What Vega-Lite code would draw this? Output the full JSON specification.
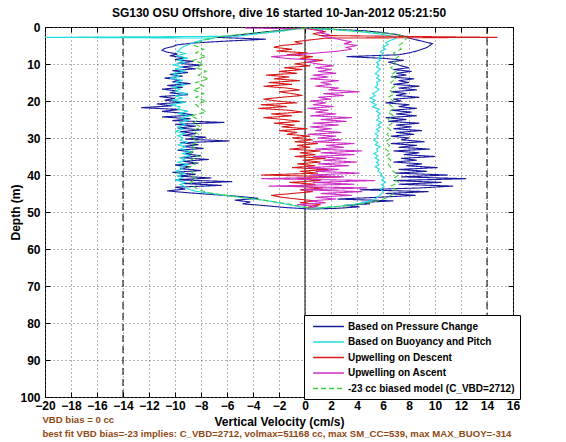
{
  "$schema": "https://vega.github.io/schema/vega-lite/v6.json",
  "width": 468,
  "height": 370,
  "autosize": "none",
  "padding": {"left": 45, "top": 27, "right": 53, "bottom": 45},
  "background": "white",
  "title": {"text": "SG130 OSU Offshore, dive 16 started 10-Jan-2012 05:21:50", "fontSize": 12, "fontWeight": "bold", "font": "Liberation Sans", "color": "black", "offset": 1},
  "config": {
    "font": "Liberation Sans",
    "view": {"stroke": "black", "strokeWidth": 1},
    "axis": {
      "labelFont": "Liberation Sans", "labelFontSize": 12, "labelFontWeight": "bold", "labelColor": "black",
      "titleFont": "Liberation Sans", "titleFontSize": 12, "titleFontWeight": "bold", "titleColor": "black",
      "domain": false, "tickColor": "black", "tickSize": -5, "tickWidth": 1,
      "gridColor": "#666", "gridDash": [1, 3], "gridOpacity": 1, "gridWidth": 1,
      "labelOverlap": false
    }
  },
  "data": {"values": [
    {"s":"P","d":0.3,"v":-0.5},{"s":"P","d":0.8,"v":-1.5},{"s":"P","d":1.3,"v":-3},{"s":"P","d":1.8,"v":-4.2},{"s":"P","d":2.3,"v":-5.5},{"s":"P","d":2.8,"v":-6.8},{"s":"P","d":3.3,"v":-3},{"s":"P","d":3.8,"v":-6},{"s":"P","d":4.3,"v":-8.5},{"s":"P","d":4.8,"v":-9.8},{"s":"P","d":5.3,"v":-10.2},{"s":"P","d":5.8,"v":-10.8},{"s":"P","d":6.3,"v":-11},{"s":"P","d":6.8,"v":-10.6},{"s":"P","d":7.3,"v":-9.8},{"s":"P","d":7.8,"v":-10.4},{"s":"P","d":8.3,"v":-9.2},{"s":"P","d":8.8,"v":-10},{"s":"P","d":9.3,"v":-8.6},{"s":"P","d":9.8,"v":-9.8},{"s":"P","d":10.3,"v":-8},{"s":"P","d":10.8,"v":-9.6},{"s":"P","d":11.3,"v":-8.4},{"s":"P","d":11.8,"v":-10.2},{"s":"P","d":12.3,"v":-9},{"s":"P","d":12.8,"v":-10.4},{"s":"P","d":13.3,"v":-9.4},{"s":"P","d":13.8,"v":-10.8},{"s":"P","d":14.3,"v":-9.6},{"s":"P","d":14.8,"v":-10.2},{"s":"P","d":15.3,"v":-8.8},{"s":"P","d":15.8,"v":-10.6},{"s":"P","d":16.3,"v":-9.4},{"s":"P","d":16.8,"v":-11},{"s":"P","d":17.3,"v":-9.8},{"s":"P","d":17.8,"v":-10.4},{"s":"P","d":18.3,"v":-9},{"s":"P","d":18.8,"v":-11.2},{"s":"P","d":19.3,"v":-10},{"s":"P","d":19.8,"v":-10.8},{"s":"P","d":20.3,"v":-9.2},{"s":"P","d":20.8,"v":-11.4},{"s":"P","d":21.3,"v":-10.2},{"s":"P","d":21.8,"v":-12.6},{"s":"P","d":22.3,"v":-9.6},{"s":"P","d":22.8,"v":-11},{"s":"P","d":23.3,"v":-9.4},{"s":"P","d":23.8,"v":-8.6},{"s":"P","d":24.3,"v":-11},{"s":"P","d":24.8,"v":-8.8},{"s":"P","d":25.3,"v":-10.2},{"s":"P","d":25.8,"v":-6.2},{"s":"P","d":26.3,"v":-10},{"s":"P","d":26.8,"v":-8.4},{"s":"P","d":27.3,"v":-9.8},{"s":"P","d":27.8,"v":-8},{"s":"P","d":28.3,"v":-9.6},{"s":"P","d":28.8,"v":-8.4},{"s":"P","d":29.3,"v":-9.4},{"s":"P","d":29.8,"v":-7.6},{"s":"P","d":30.3,"v":-9.2},{"s":"P","d":30.8,"v":-5.8},{"s":"P","d":31.3,"v":-9.6},{"s":"P","d":31.8,"v":-8.2},{"s":"P","d":32.3,"v":-9.4},{"s":"P","d":32.8,"v":-7.8},{"s":"P","d":33.3,"v":-9.8},{"s":"P","d":33.8,"v":-8.6},{"s":"P","d":34.3,"v":-9.2},{"s":"P","d":34.8,"v":-8},{"s":"P","d":35.3,"v":-9.6},{"s":"P","d":35.8,"v":-7.4},{"s":"P","d":36.3,"v":-9.4},{"s":"P","d":36.8,"v":-8.2},{"s":"P","d":37.3,"v":-10},{"s":"P","d":37.8,"v":-8.8},{"s":"P","d":38.3,"v":-9.6},{"s":"P","d":38.8,"v":-8},{"s":"P","d":39.3,"v":-10.2},{"s":"P","d":39.8,"v":-8.4},{"s":"P","d":40.3,"v":-9.8},{"s":"P","d":40.8,"v":-7.2},{"s":"P","d":41.3,"v":-10},{"s":"P","d":41.8,"v":-5.6},{"s":"P","d":42.3,"v":-9.4},{"s":"P","d":42.8,"v":-6.4},{"s":"P","d":43.3,"v":-10},{"s":"P","d":43.8,"v":-9.2},{"s":"P","d":44.3,"v":-10.6},{"s":"P","d":44.8,"v":-9},{"s":"P","d":45.3,"v":-7},{"s":"P","d":45.8,"v":-5},{"s":"P","d":46.3,"v":-3.6},{"s":"P","d":46.8,"v":-5.4},{"s":"P","d":47.3,"v":-4.2},{"s":"P","d":47.8,"v":-4.8},{"s":"P","d":48.3,"v":-3},{"s":"P","d":48.8,"v":-1.5},{"s":"P","d":49.2,"v":0.5},
    {"s":"P","d":49,"v":2.5},{"s":"P","d":48.6,"v":4.2},{"s":"P","d":48.2,"v":3},{"s":"P","d":47.8,"v":5},{"s":"P","d":47.4,"v":4.4},{"s":"P","d":47,"v":6.8},{"s":"P","d":46.5,"v":2.5},{"s":"P","d":46,"v":5.8},{"s":"P","d":45.5,"v":8.5},{"s":"P","d":45,"v":6.2},{"s":"P","d":44.5,"v":9.5},{"s":"P","d":44,"v":4.2},{"s":"P","d":43.5,"v":8.8},{"s":"P","d":43,"v":11.4},{"s":"P","d":42.5,"v":7.2},{"s":"P","d":42,"v":10.5},{"s":"P","d":41.5,"v":6.8},{"s":"P","d":41,"v":12.4},{"s":"P","d":40.5,"v":7.4},{"s":"P","d":40,"v":11},{"s":"P","d":39.5,"v":7},{"s":"P","d":39,"v":9.4},{"s":"P","d":38.5,"v":7.2},{"s":"P","d":38,"v":10.2},{"s":"P","d":37.5,"v":7.8},{"s":"P","d":37,"v":9},{"s":"P","d":36.5,"v":6.8},{"s":"P","d":36,"v":8.6},{"s":"P","d":35.5,"v":7.4},{"s":"P","d":35,"v":10},{"s":"P","d":34.5,"v":7.6},{"s":"P","d":34,"v":8.8},{"s":"P","d":33.5,"v":6.8},{"s":"P","d":33,"v":9.6},{"s":"P","d":32.5,"v":7.2},{"s":"P","d":32,"v":8.6},{"s":"P","d":31.5,"v":6.6},{"s":"P","d":31,"v":9.2},{"s":"P","d":30.5,"v":7.4},{"s":"P","d":30,"v":8},{"s":"P","d":29.5,"v":6.6},{"s":"P","d":29,"v":8.4},{"s":"P","d":28.5,"v":7},{"s":"P","d":28,"v":9},{"s":"P","d":27.5,"v":6.8},{"s":"P","d":27,"v":8.2},{"s":"P","d":26.5,"v":7},{"s":"P","d":26,"v":8.8},{"s":"P","d":25.5,"v":6.4},{"s":"P","d":25,"v":7.8},{"s":"P","d":24.5,"v":6.2},{"s":"P","d":24,"v":8.6},{"s":"P","d":23.5,"v":7},{"s":"P","d":23,"v":8.2},{"s":"P","d":22.5,"v":6.6},{"s":"P","d":22,"v":8.6},{"s":"P","d":21.5,"v":7.2},{"s":"P","d":21,"v":8},{"s":"P","d":20.5,"v":6.2},{"s":"P","d":20,"v":7.4},{"s":"P","d":19.5,"v":6.8},{"s":"P","d":19,"v":8.8},{"s":"P","d":18.5,"v":7},{"s":"P","d":18,"v":7.8},{"s":"P","d":17.5,"v":6.6},{"s":"P","d":17,"v":8.6},{"s":"P","d":16.5,"v":7.2},{"s":"P","d":16,"v":8.8},{"s":"P","d":15.5,"v":6.8},{"s":"P","d":15,"v":8},{"s":"P","d":14.5,"v":7.2},{"s":"P","d":14,"v":8.4},{"s":"P","d":13.5,"v":6.6},{"s":"P","d":13,"v":7.8},{"s":"P","d":12.5,"v":7},{"s":"P","d":12,"v":8.2},{"s":"P","d":11.5,"v":6.8},{"s":"P","d":11,"v":8},{"s":"P","d":10.5,"v":7.4},{"s":"P","d":10,"v":7},{"s":"P","d":9.5,"v":6.4},{"s":"P","d":9,"v":7.6},{"s":"P","d":8.5,"v":6.2},{"s":"P","d":8,"v":3.2},{"s":"P","d":7.5,"v":7.2},{"s":"P","d":7,"v":8},{"s":"P","d":6.5,"v":8.6},{"s":"P","d":6,"v":9},{"s":"P","d":5.5,"v":9.4},{"s":"P","d":5,"v":9.6},{"s":"P","d":4.5,"v":9.8},{"s":"P","d":4,"v":9.2},{"s":"P","d":3.5,"v":8.6},{"s":"P","d":3,"v":8},{"s":"P","d":2.5,"v":7.6},{"s":"P","d":2,"v":7},{"s":"P","d":1.5,"v":6},{"s":"P","d":1,"v":4.5},{"s":"P","d":0.6,"v":2},{"s":"P","d":0.3,"v":0},

    {"s":"B","d":0.3,"v":-0.3},{"s":"B","d":1,"v":-1.5},{"s":"B","d":1.8,"v":-3.5},{"s":"B","d":2.5,"v":-5.2},{"s":"B","d":2.8,"v":-20},{"s":"B","d":3,"v":-7},{"s":"B","d":3.6,"v":-8},{"s":"B","d":4.2,"v":-8.6},{"s":"B","d":4.8,"v":-9},{"s":"B","d":5.4,"v":-9.4},{"s":"B","d":6,"v":-9.6},{"s":"B","d":6.6,"v":-9.8},{"s":"B","d":7.2,"v":-9.2},{"s":"B","d":7.8,"v":-9.9},{"s":"B","d":8.4,"v":-9},{"s":"B","d":9,"v":-9.8},{"s":"B","d":9.6,"v":-9.2},{"s":"B","d":10.2,"v":-10.2},{"s":"B","d":10.8,"v":-9.4},{"s":"B","d":11.4,"v":-10},{"s":"B","d":12,"v":-9.2},{"s":"B","d":12.6,"v":-10.2},{"s":"B","d":13.2,"v":-9.6},{"s":"B","d":13.8,"v":-10.4},{"s":"B","d":14.4,"v":-9.4},{"s":"B","d":15,"v":-10},{"s":"B","d":15.6,"v":-9.2},{"s":"B","d":16.2,"v":-10.2},{"s":"B","d":16.8,"v":-9.6},{"s":"B","d":17.4,"v":-10},{"s":"B","d":18,"v":-9},{"s":"B","d":18.6,"v":-10},{"s":"B","d":19.2,"v":-9.4},{"s":"B","d":19.8,"v":-10.2},{"s":"B","d":20.4,"v":-9.2},{"s":"B","d":21,"v":-10.4},{"s":"B","d":21.6,"v":-9.6},{"s":"B","d":22.2,"v":-9.8},{"s":"B","d":22.8,"v":-9},{"s":"B","d":23.4,"v":-9.8},{"s":"B","d":24,"v":-8.8},{"s":"B","d":24.6,"v":-9.6},{"s":"B","d":25.2,"v":-9},{"s":"B","d":25.8,"v":-9.6},{"s":"B","d":26.4,"v":-9.2},{"s":"B","d":27,"v":-9.8},{"s":"B","d":27.6,"v":-9.4},{"s":"B","d":28.2,"v":-10},{"s":"B","d":28.8,"v":-9.2},{"s":"B","d":29.4,"v":-9.8},{"s":"B","d":30,"v":-9.4},{"s":"B","d":30.6,"v":-9.6},{"s":"B","d":31.2,"v":-9},{"s":"B","d":31.8,"v":-9.8},{"s":"B","d":32.4,"v":-9.2},{"s":"B","d":33,"v":-9.6},{"s":"B","d":33.6,"v":-8.8},{"s":"B","d":34.2,"v":-9.4},{"s":"B","d":34.8,"v":-8.8},{"s":"B","d":35.4,"v":-9.6},{"s":"B","d":36,"v":-9.2},{"s":"B","d":36.6,"v":-9.8},{"s":"B","d":37.2,"v":-9},{"s":"B","d":37.8,"v":-9.6},{"s":"B","d":38.4,"v":-9.4},{"s":"B","d":39,"v":-10},{"s":"B","d":39.6,"v":-9.2},{"s":"B","d":40.2,"v":-9.8},{"s":"B","d":40.8,"v":-9.4},{"s":"B","d":41.4,"v":-10},{"s":"B","d":42,"v":-9.2},{"s":"B","d":42.6,"v":-9.6},{"s":"B","d":43.2,"v":-9.2},{"s":"B","d":43.8,"v":-9},{"s":"B","d":44.4,"v":-8.4},{"s":"B","d":45,"v":-7.2},{"s":"B","d":45.6,"v":-6},{"s":"B","d":46.2,"v":-4.6},{"s":"B","d":46.8,"v":-3.2},{"s":"B","d":47.4,"v":-2.2},{"s":"B","d":48,"v":-1.2},{"s":"B","d":48.6,"v":-0.4},{"s":"B","d":49,"v":0.4},
    {"s":"B","d":48.8,"v":1.5},{"s":"B","d":48.4,"v":2.8},{"s":"B","d":47.9,"v":3.8},{"s":"B","d":47.4,"v":4.6},{"s":"B","d":46.8,"v":5.2},{"s":"B","d":46.2,"v":5.5},{"s":"B","d":45.6,"v":5.7},{"s":"B","d":45,"v":5.9},{"s":"B","d":44.4,"v":6},{"s":"B","d":43.8,"v":5.8},{"s":"B","d":43.2,"v":6.1},{"s":"B","d":42.6,"v":5.9},{"s":"B","d":42,"v":6.2},{"s":"B","d":41.4,"v":5.9},{"s":"B","d":40.8,"v":6.1},{"s":"B","d":40.2,"v":5.8},{"s":"B","d":39.6,"v":5.9},{"s":"B","d":39,"v":5.6},{"s":"B","d":38.4,"v":5.7},{"s":"B","d":37.8,"v":5.4},{"s":"B","d":37.2,"v":5.7},{"s":"B","d":36.6,"v":5.5},{"s":"B","d":36,"v":5.7},{"s":"B","d":35.4,"v":5.4},{"s":"B","d":34.8,"v":5.6},{"s":"B","d":34.2,"v":5.3},{"s":"B","d":33.6,"v":5.6},{"s":"B","d":33,"v":5.5},{"s":"B","d":32.4,"v":5.8},{"s":"B","d":31.8,"v":5.4},{"s":"B","d":31.2,"v":5.6},{"s":"B","d":30.6,"v":5.3},{"s":"B","d":30,"v":5.5},{"s":"B","d":29.4,"v":5.6},{"s":"B","d":28.8,"v":5.4},{"s":"B","d":28.2,"v":5.7},{"s":"B","d":27.6,"v":5.5},{"s":"B","d":27,"v":5.8},{"s":"B","d":26.4,"v":5.6},{"s":"B","d":25.8,"v":5.9},{"s":"B","d":25.2,"v":5.5},{"s":"B","d":24.6,"v":5.7},{"s":"B","d":24,"v":5.6},{"s":"B","d":23.4,"v":5.8},{"s":"B","d":22.8,"v":5.5},{"s":"B","d":22.2,"v":5.7},{"s":"B","d":21.6,"v":5.2},{"s":"B","d":21,"v":5.5},{"s":"B","d":20.4,"v":5.1},{"s":"B","d":19.8,"v":5.4},{"s":"B","d":19.2,"v":5},{"s":"B","d":18.6,"v":5.4},{"s":"B","d":18,"v":5.2},{"s":"B","d":17.4,"v":5.5},{"s":"B","d":16.8,"v":5.7},{"s":"B","d":16.2,"v":5.4},{"s":"B","d":15.6,"v":5.6},{"s":"B","d":15,"v":5.5},{"s":"B","d":14.4,"v":5.8},{"s":"B","d":13.8,"v":5.5},{"s":"B","d":13.2,"v":5.7},{"s":"B","d":12.6,"v":5.4},{"s":"B","d":12,"v":5.6},{"s":"B","d":11.4,"v":5.8},{"s":"B","d":10.8,"v":5.5},{"s":"B","d":10.2,"v":5.7},{"s":"B","d":9.6,"v":5.5},{"s":"B","d":9,"v":5.8},{"s":"B","d":8.4,"v":5.6},{"s":"B","d":7.8,"v":5.9},{"s":"B","d":7.2,"v":6},{"s":"B","d":6.6,"v":5.8},{"s":"B","d":6,"v":6.2},{"s":"B","d":5.4,"v":6},{"s":"B","d":4.8,"v":6.4},{"s":"B","d":4.2,"v":6.2},{"s":"B","d":3.6,"v":6.6},{"s":"B","d":3,"v":7},{"s":"B","d":2.4,"v":6.6},{"s":"B","d":1.8,"v":5.6},{"s":"B","d":1.2,"v":4},{"s":"B","d":0.6,"v":1.8},{"s":"B","d":0.3,"v":0},

    {"s":"D","d":0.3,"v":0},{"s":"D","d":0.8,"v":0.8},{"s":"D","d":1.3,"v":1.6},{"s":"D","d":1.8,"v":0.6},{"s":"D","d":2.3,"v":1.2},{"s":"D","d":2.8,"v":14.8},{"s":"D","d":3,"v":1.6},{"s":"D","d":3.5,"v":0.4},{"s":"D","d":4,"v":-0.8},{"s":"D","d":4.5,"v":-0.2},{"s":"D","d":5,"v":-1.8},{"s":"D","d":5.5,"v":-2.4},{"s":"D","d":6,"v":-1},{"s":"D","d":6.5,"v":-2.2},{"s":"D","d":7,"v":0.2},{"s":"D","d":7.5,"v":-1.4},{"s":"D","d":8,"v":0.6},{"s":"D","d":8.5,"v":-0.4},{"s":"D","d":9,"v":1.4},{"s":"D","d":9.5,"v":0.2},{"s":"D","d":10,"v":-0.8},{"s":"D","d":10.5,"v":0.4},{"s":"D","d":11,"v":-1.6},{"s":"D","d":11.5,"v":-0.2},{"s":"D","d":12,"v":-2},{"s":"D","d":12.5,"v":-0.6},{"s":"D","d":13,"v":-3},{"s":"D","d":13.5,"v":-1.2},{"s":"D","d":14,"v":-2.4},{"s":"D","d":14.5,"v":-0.4},{"s":"D","d":15,"v":-2.8},{"s":"D","d":15.5,"v":-1},{"s":"D","d":16,"v":-3.2},{"s":"D","d":16.5,"v":-1.4},{"s":"D","d":17,"v":-0.4},{"s":"D","d":17.5,"v":-2},{"s":"D","d":18,"v":-1},{"s":"D","d":18.5,"v":-0.2},{"s":"D","d":19,"v":-1.8},{"s":"D","d":19.5,"v":-3.2},{"s":"D","d":20,"v":-2.2},{"s":"D","d":20.5,"v":-0.6},{"s":"D","d":21,"v":-3.4},{"s":"D","d":21.5,"v":-1.4},{"s":"D","d":22,"v":-3.6},{"s":"D","d":22.5,"v":-1.2},{"s":"D","d":23,"v":-0.2},{"s":"D","d":23.5,"v":-2.6},{"s":"D","d":24,"v":-1},{"s":"D","d":24.5,"v":-3.2},{"s":"D","d":25,"v":-1.6},{"s":"D","d":25.5,"v":-0.4},{"s":"D","d":26,"v":-2.4},{"s":"D","d":26.5,"v":-0.8},{"s":"D","d":27,"v":-1.8},{"s":"D","d":27.5,"v":0.2},{"s":"D","d":28,"v":-2},{"s":"D","d":28.5,"v":-0.6},{"s":"D","d":29,"v":-1.4},{"s":"D","d":29.5,"v":0.4},{"s":"D","d":30,"v":-1},{"s":"D","d":30.5,"v":0.6},{"s":"D","d":31,"v":-0.8},{"s":"D","d":31.5,"v":1},{"s":"D","d":32,"v":-0.6},{"s":"D","d":32.5,"v":0.4},{"s":"D","d":33,"v":-1.2},{"s":"D","d":33.5,"v":1.2},{"s":"D","d":34,"v":-0.4},{"s":"D","d":34.5,"v":0.8},{"s":"D","d":35,"v":-0.8},{"s":"D","d":35.5,"v":1.6},{"s":"D","d":36,"v":-0.2},{"s":"D","d":36.5,"v":1.2},{"s":"D","d":37,"v":-0.6},{"s":"D","d":37.5,"v":0.8},{"s":"D","d":38,"v":-1},{"s":"D","d":38.5,"v":1.8},{"s":"D","d":39,"v":-0.4},{"s":"D","d":39.5,"v":1},{"s":"D","d":40,"v":-3.4},{"s":"D","d":40.5,"v":2.8},{"s":"D","d":41,"v":-0.6},{"s":"D","d":41.5,"v":1.2},{"s":"D","d":42,"v":-1.2},{"s":"D","d":42.5,"v":0.8},{"s":"D","d":43,"v":-0.8},{"s":"D","d":43.5,"v":1.4},{"s":"D","d":44,"v":-0.4},{"s":"D","d":44.5,"v":0.6},{"s":"D","d":45,"v":-1},{"s":"D","d":45.5,"v":-2.6},{"s":"D","d":46,"v":-1.8},{"s":"D","d":46.5,"v":-0.6},{"s":"D","d":47,"v":0.8},{"s":"D","d":47.5,"v":-0.4},{"s":"D","d":48,"v":1.2},{"s":"D","d":48.5,"v":0.4},{"s":"D","d":49,"v":0.2},

    {"s":"A","d":49,"v":0.2},{"s":"A","d":48.5,"v":1},{"s":"A","d":48,"v":-0.6},{"s":"A","d":47.5,"v":1.6},{"s":"A","d":47,"v":0.4},{"s":"A","d":46.5,"v":2.4},{"s":"A","d":46,"v":0.8},{"s":"A","d":45.5,"v":3.6},{"s":"A","d":45,"v":1.2},{"s":"A","d":44.5,"v":4.4},{"s":"A","d":44,"v":-0.2},{"s":"A","d":43.5,"v":4.8},{"s":"A","d":43,"v":-2.8},{"s":"A","d":42.5,"v":3.8},{"s":"A","d":42,"v":0.6},{"s":"A","d":41.5,"v":5.4},{"s":"A","d":41,"v":-3.4},{"s":"A","d":40.5,"v":3},{"s":"A","d":40,"v":0.4},{"s":"A","d":39.5,"v":4.2},{"s":"A","d":39,"v":0.8},{"s":"A","d":38.5,"v":2.6},{"s":"A","d":38,"v":0.2},{"s":"A","d":37.5,"v":3.4},{"s":"A","d":37,"v":1},{"s":"A","d":36.5,"v":4},{"s":"A","d":36,"v":1.4},{"s":"A","d":35.5,"v":3.2},{"s":"A","d":35,"v":0.6},{"s":"A","d":34.5,"v":3.8},{"s":"A","d":34,"v":1.2},{"s":"A","d":33.5,"v":4.4},{"s":"A","d":33,"v":0.8},{"s":"A","d":32.5,"v":3},{"s":"A","d":32,"v":1.6},{"s":"A","d":31.5,"v":3.8},{"s":"A","d":31,"v":0.6},{"s":"A","d":30.5,"v":2.8},{"s":"A","d":30,"v":1},{"s":"A","d":29.5,"v":2.4},{"s":"A","d":29,"v":0.2},{"s":"A","d":28.5,"v":2.8},{"s":"A","d":28,"v":0.8},{"s":"A","d":27.5,"v":2},{"s":"A","d":27,"v":0.4},{"s":"A","d":26.5,"v":2.6},{"s":"A","d":26,"v":0.6},{"s":"A","d":25.5,"v":3.2},{"s":"A","d":25,"v":1.2},{"s":"A","d":24.5,"v":3.6},{"s":"A","d":24,"v":0.4},{"s":"A","d":23.5,"v":2.4},{"s":"A","d":23,"v":0.8},{"s":"A","d":22.5,"v":1.8},{"s":"A","d":22,"v":0.2},{"s":"A","d":21.5,"v":2.2},{"s":"A","d":21,"v":0.6},{"s":"A","d":20.5,"v":1.6},{"s":"A","d":20,"v":0.4},{"s":"A","d":19.5,"v":2},{"s":"A","d":19,"v":1},{"s":"A","d":18.5,"v":3},{"s":"A","d":18,"v":1.4},{"s":"A","d":17.5,"v":4.2},{"s":"A","d":17,"v":1.8},{"s":"A","d":16.5,"v":2.6},{"s":"A","d":16,"v":0.8},{"s":"A","d":15.5,"v":2},{"s":"A","d":15,"v":1.2},{"s":"A","d":14.5,"v":2.6},{"s":"A","d":14,"v":0.4},{"s":"A","d":13.5,"v":1.8},{"s":"A","d":13,"v":0.6},{"s":"A","d":12.5,"v":2.4},{"s":"A","d":12,"v":1},{"s":"A","d":11.5,"v":2},{"s":"A","d":11,"v":0.8},{"s":"A","d":10.5,"v":2.2},{"s":"A","d":10,"v":1},{"s":"A","d":9.5,"v":0.2},{"s":"A","d":9,"v":1},{"s":"A","d":8.5,"v":-1.4},{"s":"A","d":8,"v":-2.6},{"s":"A","d":7.5,"v":-0.6},{"s":"A","d":7,"v":1},{"s":"A","d":6.5,"v":2.6},{"s":"A","d":6,"v":3.6},{"s":"A","d":5.5,"v":3.2},{"s":"A","d":5,"v":4},{"s":"A","d":4.5,"v":3},{"s":"A","d":4,"v":3.6},{"s":"A","d":3.5,"v":2.8},{"s":"A","d":3,"v":2.2},{"s":"A","d":2.5,"v":1.4},{"s":"A","d":2,"v":1.8},{"s":"A","d":1.5,"v":1},{"s":"A","d":1,"v":1.4},{"s":"A","d":0.5,"v":0.4},{"s":"A","d":0.3,"v":-4.6},

    {"s":"M","d":0.3,"v":0},{"s":"M","d":1,"v":-2},{"s":"M","d":1.8,"v":-4.5},{"s":"M","d":2.6,"v":-6.5},{"s":"M","d":3.4,"v":-7.6},{"s":"M","d":4.2,"v":-8.2},{"s":"M","d":5,"v":-8.5},{"s":"M","d":6,"v":-7.8},{"s":"M","d":7,"v":-8.4},{"s":"M","d":8,"v":-7.6},{"s":"M","d":9,"v":-8.6},{"s":"M","d":10,"v":-7.8},{"s":"M","d":11,"v":-8.4},{"s":"M","d":12,"v":-7.6},{"s":"M","d":13,"v":-8.2},{"s":"M","d":14,"v":-7.4},{"s":"M","d":15,"v":-8.4},{"s":"M","d":16,"v":-7.8},{"s":"M","d":17,"v":-8.6},{"s":"M","d":18,"v":-7.8},{"s":"M","d":19,"v":-8.4},{"s":"M","d":20,"v":-7.6},{"s":"M","d":21,"v":-8.4},{"s":"M","d":22,"v":-8},{"s":"M","d":23,"v":-7.6},{"s":"M","d":24,"v":-8.8},{"s":"M","d":25,"v":-8.2},{"s":"M","d":26,"v":-8.6},{"s":"M","d":27,"v":-8},{"s":"M","d":28,"v":-8.6},{"s":"M","d":29,"v":-8.2},{"s":"M","d":30,"v":-8.8},{"s":"M","d":31,"v":-8.2},{"s":"M","d":32,"v":-8.8},{"s":"M","d":33,"v":-8.4},{"s":"M","d":34,"v":-8.8},{"s":"M","d":35,"v":-8.2},{"s":"M","d":36,"v":-8.8},{"s":"M","d":37,"v":-8.4},{"s":"M","d":38,"v":-9},{"s":"M","d":39,"v":-8.6},{"s":"M","d":40,"v":-8.8},{"s":"M","d":41,"v":-8.4},{"s":"M","d":42,"v":-8.8},{"s":"M","d":43,"v":-8.6},{"s":"M","d":44,"v":-8.2},{"s":"M","d":44.8,"v":-7.4},{"s":"M","d":45.5,"v":-6},{"s":"M","d":46.2,"v":-4.6},{"s":"M","d":46.8,"v":-3.2},{"s":"M","d":47.4,"v":-2},{"s":"M","d":48,"v":-1},{"s":"M","d":48.6,"v":-0.2},{"s":"M","d":49,"v":0.6},
    {"s":"M","d":48.6,"v":2.4},{"s":"M","d":48,"v":4},{"s":"M","d":47.4,"v":5},{"s":"M","d":46.8,"v":5.8},{"s":"M","d":46,"v":6.4},{"s":"M","d":45,"v":6.8},{"s":"M","d":44,"v":7},{"s":"M","d":43,"v":6.6},{"s":"M","d":42,"v":7.2},{"s":"M","d":41,"v":6.8},{"s":"M","d":40,"v":7.2},{"s":"M","d":39,"v":6.8},{"s":"M","d":38,"v":6.6},{"s":"M","d":37,"v":6.4},{"s":"M","d":36,"v":6.6},{"s":"M","d":35,"v":6.2},{"s":"M","d":34,"v":6.6},{"s":"M","d":33,"v":6.2},{"s":"M","d":32,"v":6.5},{"s":"M","d":31,"v":6.2},{"s":"M","d":30,"v":6.6},{"s":"M","d":29,"v":6.3},{"s":"M","d":28,"v":6.6},{"s":"M","d":27,"v":6.3},{"s":"M","d":26,"v":6.7},{"s":"M","d":25,"v":6.4},{"s":"M","d":24,"v":6.8},{"s":"M","d":23,"v":6.4},{"s":"M","d":22,"v":6.9},{"s":"M","d":21,"v":6.5},{"s":"M","d":20,"v":6.8},{"s":"M","d":19,"v":6.4},{"s":"M","d":18,"v":6.9},{"s":"M","d":17,"v":6.5},{"s":"M","d":16,"v":6.9},{"s":"M","d":15,"v":6.6},{"s":"M","d":14,"v":7},{"s":"M","d":13,"v":6.6},{"s":"M","d":12,"v":7},{"s":"M","d":11,"v":6.6},{"s":"M","d":10,"v":7},{"s":"M","d":9,"v":6.8},{"s":"M","d":8,"v":7.2},{"s":"M","d":7,"v":6.8},{"s":"M","d":6,"v":7.4},{"s":"M","d":5,"v":7.2},{"s":"M","d":4,"v":7.6},{"s":"M","d":3,"v":7.8},{"s":"M","d":2,"v":7.2},{"s":"M","d":1.2,"v":4.5},{"s":"M","d":0.6,"v":2},{"s":"M","d":0.3,"v":0}
  ]},
  "layer": [
    {
      "data": {"values": [{"x": -14}, {"x": 14}]},
      "mark": {"type": "rule", "color": "black", "strokeWidth": 1, "strokeDash": [7, 4]},
      "encoding": {
        "x": {"field": "x", "type": "quantitative", "scale": {"domain": [-20, 16], "nice": false, "zero": false},
              "axis": {"orient": "top", "labels": false, "title": null, "grid": false, "values": [-20,-18,-16,-14,-12,-10,-8,-6,-4,-2,0,2,4,6,8,10,12,14,16]}},
        "y": {"datum": 0, "scale": {"domain": [0, 100], "reverse": true, "nice": false, "zero": false},
              "axis": {"orient": "right", "labels": false, "title": null, "grid": false, "values": [0,10,20,30,40,50,60,70,80,90,100]}},
        "y2": {"datum": 100}
      }
    },
    {
      "data": {"values": [{}]},
      "mark": {"type": "rule", "color": "black", "strokeWidth": 1},
      "encoding": {"x": {"datum": 0, "axis": null}}
    },
    {
      "mark": {"type": "line", "strokeWidth": 1.1},
      "encoding": {
        "x": {"field": "v", "type": "quantitative",
              "axis": {"orient": "bottom", "title": "Vertical Velocity (cm/s)", "grid": true, "labelFlush": false, "labelPadding": 8, "titlePadding": 5,
                       "values": [-20,-18,-16,-14,-12,-10,-8,-6,-4,-2,0,2,4,6,8,10,12,14,16]}},
        "y": {"field": "d", "type": "quantitative",
              "axis": {"orient": "left", "title": "Depth (m)", "grid": true, "labelPadding": 10, "titlePadding": -3,
                       "values": [0,10,20,30,40,50,60,70,80,90,100]}},
        "color": {"field": "s", "type": "nominal",
                  "scale": {"domain": ["P","B","D","A","M"], "range": ["#1a1a9c","#22dcdc","#d41c1c","#cc30c4","#3ccc3c"]},
                  "legend": {"title": null, "orient": "none", "legendX": 259, "legendY": 288, "strokeColor": "black", "fillColor": "white", "padding": 5,
                             "labelFont": "Liberation Sans", "labelFontSize": 10, "labelFontWeight": "bold", "labelColor": "black", "labelOffset": 13, "labelLimit": 300,
                             "symbolType": "M-2.8,0H2.8", "symbolSize": 121, "symbolOffset": 13, "symbolStrokeWidth": 1.3, "rowPadding": 3.5,
                             "labelExpr": "{'P':'Based on Pressure Change','B':'Based on Buoyancy and Pitch','D':'Upwelling on Descent','A':'Upwelling on Ascent','M':'-23 cc biased model (C_VBD=2712)'}[datum.label]"}},
        "strokeDash": {"field": "s", "type": "nominal",
                  "scale": {"domain": ["P","B","D","A","M"], "range": [[1,0],[1,0],[1,0],[1,0],[5,3]]},
                  "legend": {"title": null, "orient": "none", "legendX": 259, "legendY": 288, "strokeColor": "black", "fillColor": "white", "padding": 5,
                             "labelFont": "Liberation Sans", "labelFontSize": 10, "labelFontWeight": "bold", "labelColor": "black", "labelOffset": 13, "labelLimit": 300,
                             "symbolType": "M-2.8,0H2.8", "symbolSize": 121, "symbolOffset": 13, "symbolStrokeWidth": 1.3, "rowPadding": 3.5,
                             "labelExpr": "{'P':'Based on Pressure Change','B':'Based on Buoyancy and Pitch','D':'Upwelling on Descent','A':'Upwelling on Ascent','M':'-23 cc biased model (C_VBD=2712)'}[datum.label]"}},
        "order": {"value": null}
      }
    },
    {
      "data": {"values": [{}]},
      "mark": {"type": "text", "align": "left", "baseline": "middle", "color": "#8f4a16", "fontSize": 9.6, "fontWeight": "bold", "font": "Liberation Sans"},
      "encoding": {"x": {"datum": -20.2, "axis": null}, "y": {"datum": 106.2, "axis": null}, "text": {"value": "VBD bias = 0 cc"}}
    },
    {
      "data": {"values": [{}]},
      "mark": {"type": "text", "align": "left", "baseline": "middle", "color": "#8f4a16", "fontSize": 9.6, "fontWeight": "bold", "font": "Liberation Sans"},
      "encoding": {"x": {"datum": -20.2, "axis": null}, "y": {"datum": 110.0, "axis": null}, "text": {"value": "best fit VBD bias=-23 implies: C_VBD=2712, volmax=51168 cc, max SM_CC=539, max MAX_BUOY=-314"}}
    }
  ]
}
